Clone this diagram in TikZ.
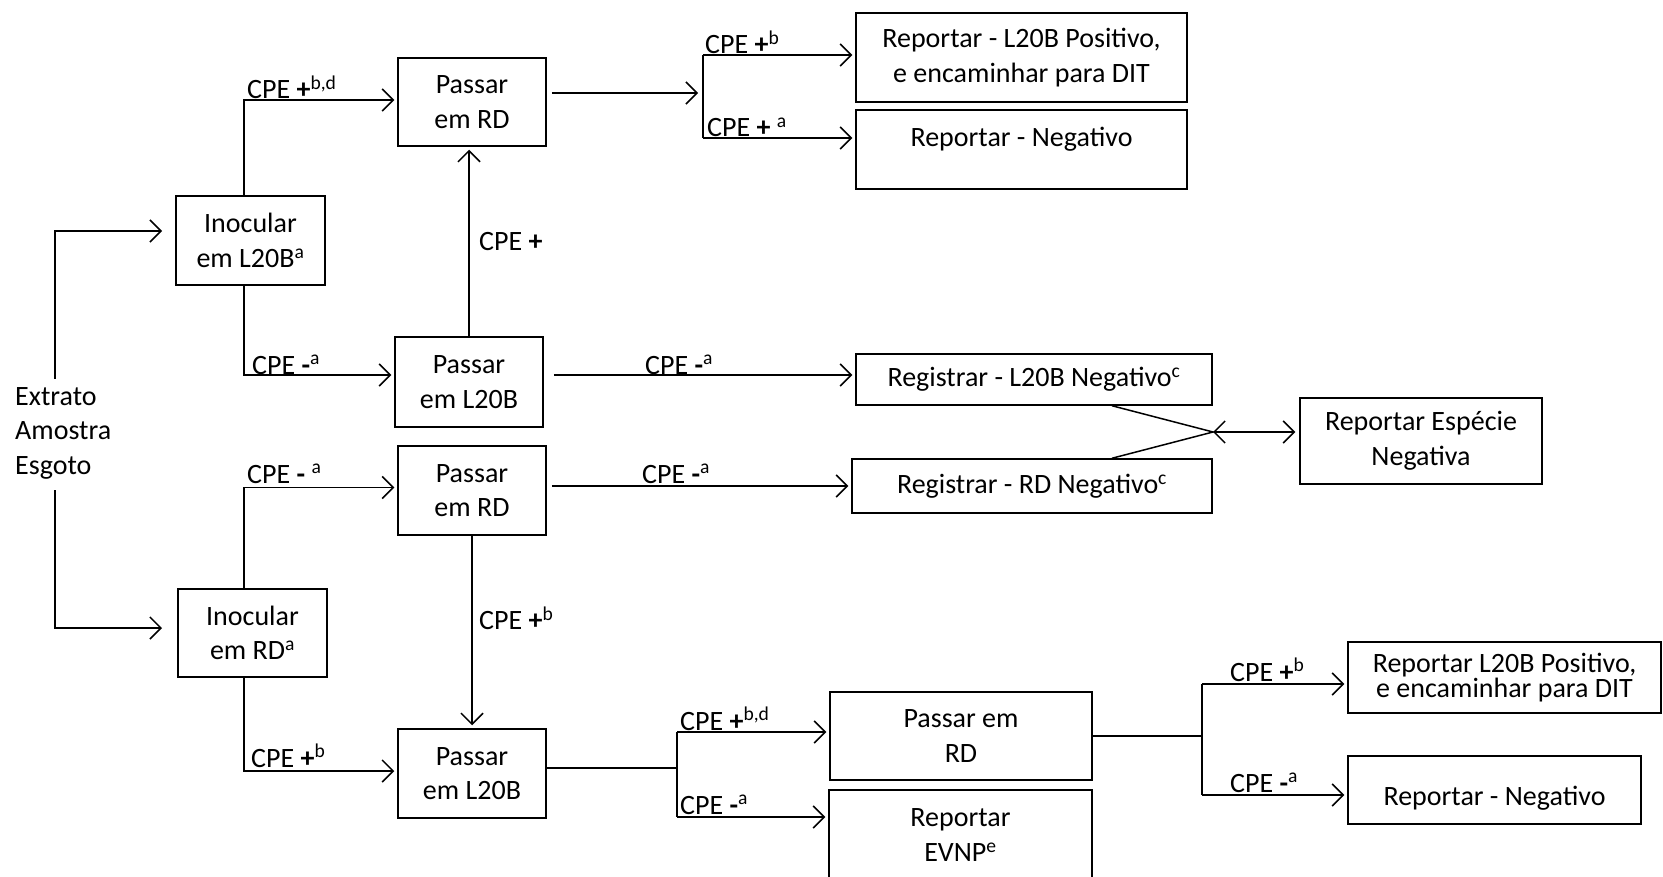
\documentclass[tikz,border=0pt]{standalone}
\usepackage{fontspec}
\setmainfont{Carlito}
\usetikzlibrary{arrows.meta,calc}
\begin{document}
\begin{tikzpicture}[x=1pt,y=-1pt,
  font=\fontsize{28}{34.5}\selectfont,
  box/.style={draw,line width=1.5pt,align=center,inner sep=0pt},
  sbox/.style={draw,line width=1.5pt,inner sep=0pt},
  lab/.style={anchor=base west,inner sep=0pt},
  ln/.style={line width=1.5pt},
  arr/.style={ln,-{Straight Barb[length=11pt,width=22pt]},shorten >=3pt},
  darr/.style={ln,{Straight Barb[length=11pt,width=22pt]}-{Straight Barb[length=11pt,width=22pt]},shorten >=4pt},
]
\useasboundingbox (0,0) rectangle (1663,877);

% boxes
\node[box,minimum width=148,minimum height=88] (pRD1) at (472,102) {Passar\\em RD};
\node[box,minimum width=149,minimum height=89] (iL20B) at (250.5,240.5) {Inocular\\em L20B\textsuperscript{a}};
\node[box,minimum width=148,minimum height=90] (pL20B1) at (469,382) {Passar\\em L20B};
\node[box,minimum width=331,minimum height=89] (rPos1) at (1021.5,57.5) {Reportar - L20B Positivo,\\e encaminhar para DIT};
\node[sbox,minimum width=331,minimum height=79,text height=20pt,text depth=26pt] (rNeg1) at (1021.5,149.5) {Reportar - Negativo};
\node[box,minimum width=356,minimum height=51] (regL20B) at (1034,379.5) {Registrar - L20B Negativo\textsuperscript{c}};
\node[box,minimum width=360,minimum height=54] (regRD) at (1032,486) {Registrar - RD Negativo\textsuperscript{c}};
\node[box,minimum width=242,minimum height=86] (repEsp) at (1421,441) {Reportar Espécie\\Negativa};
\node[box,minimum width=148,minimum height=89] (pRD2) at (472,490.5) {Passar\\em RD};
\node[box,minimum width=149,minimum height=88] (iRD) at (252.5,633) {Inocular\\em RD\textsuperscript{a}};
\node[box,minimum width=148,minimum height=89] (pL20B2) at (472,773.5) {Passar\\em L20B};
\node[box,minimum width=262,minimum height=88] (pRD3) at (961,736) {Passar em\\RD};
\node[box,minimum width=263,minimum height=90] (evnp) at (960.5,835) {Reportar\\EVNP\textsuperscript{e}};
\node[box,minimum width=313,minimum height=71,font=\fontsize{28}{22}\selectfont] (rPos2) at (1504.5,677.5) {Reportar L20B Positivo,\\e encaminhar para DIT};
\node[sbox,minimum width=293,minimum height=68,text height=36pt,text depth=6pt] (rNeg2) at (1494.5,790) {Reportar - Negativo};
\node[anchor=west,align=left,inner sep=0pt] (ext) at (15,433) {Extrato\\Amostra\\Esgoto};

% helper coordinates
\coordinate (vx) at (55,0);
\coordinate (t1) at (165,231);
\coordinate (t2) at (165,628);
\coordinate (cx) at (244,0);
\coordinate (br1t) at (703,55);
\coordinate (br1b) at (703,138);
\coordinate (br1in) at (701,93);
\coordinate (br2t) at (677,732);
\coordinate (br2b) at (677,817);
\coordinate (br3t) at (1202,684);
\coordinate (br3b) at (1202,795);
\coordinate (jx) at (1112,0);
\coordinate (j) at (1213,432);

% start
\draw[arr,shorten <=8pt] (ext.north -| vx) |- (t1);
\draw[arr,shorten <=11pt] (ext.south -| vx) |- (t2);

% upper branch
\draw[arr] (iL20B.north -| cx) |- ([yshift=2pt]pRD1.west);
\draw[arr] (iL20B.south -| cx) |- ([yshift=7pt]pL20B1.west);
\draw[arr] (pL20B1.north) -- (pL20B1.north |- pRD1.south);
\draw[arr,shorten <=5pt] ([yshift=9pt]pRD1.east) -- (br1in);
\draw[ln] (br1t) -- (br1b);
\draw[arr] (br1t) -- (br1t -| rPos1.west);
\draw[arr] (br1b) -- (br1b -| rNeg1.west);
\draw[arr,shorten <=10pt] ([yshift=7pt]pL20B1.east) -- ([yshift=7pt]pL20B1.east -| regL20B.west);

% lower branch
\draw[arr] (iRD.north -| cx) |- ([yshift=3pt]pRD2.west);
\draw[arr] (iRD.south -| cx) |- ([yshift=2.5pt]pL20B2.west);
\draw[arr,shorten <=5pt] (pRD2.east |- regRD.west) -- (regRD.west);
\draw[arr] (pRD2.south) -- (pL20B2.north);
\draw[ln] ([yshift=5.5pt]pL20B2.east) -- ([yshift=5.5pt]pL20B2.east -| br2t);
\draw[ln] (br2t) -- (br2b);
\draw[arr] (br2t) -- (br2t -| pRD3.west);
\draw[arr] (br2b) -- (br2b -| evnp.west);
\draw[ln] (pRD3.east) -- (pRD3.east -| br3t);
\draw[ln] (br3t) -- (br3b);
\draw[arr] (br3t) -- (br3t -| rPos2.west);
\draw[arr] (br3b) -- (br3b -| rNeg2.west);

% join
\draw[ln] (regL20B.south -| jx) -- (j) -- (regRD.north -| jx);
\draw[darr] (j) -- (j -| repEsp.west);

% labels
\node[lab] (l1) at (247,99) {CPE \textbf{+}\textsuperscript{b,d}};
\node[lab] (l2) at (252,374) {CPE \textbf{-}\textsuperscript{a}};
\node[anchor=west,inner sep=0pt] (l3) at (479,242) {CPE \textbf{+}};
\node[lab] (l4) at (705,54) {CPE \textbf{+}\textsuperscript{b}};
\node[lab] (l5) at (707,137) {CPE \textbf{+} \textsuperscript{a}};
\node[lab] (l6) at (645,374) {CPE \textbf{-}\textsuperscript{a}};
\node[lab] (l7) at (247,483) {CPE \textbf{-} \textsuperscript{a}};
\node[lab] (l8) at (642,483) {CPE \textbf{-}\textsuperscript{a}};
\node[lab] (l9) at (251,767) {CPE \textbf{+}\textsuperscript{b}};
\node[anchor=west,inner sep=0pt] (l10) at (479,618) {CPE \textbf{+}\textsuperscript{b}};
\node[lab] (l11) at (680,730) {CPE \textbf{+}\textsuperscript{b,d}};
\node[lab] (l12) at (680,814) {CPE \textbf{-}\textsuperscript{a}};
\node[lab] (l13) at (1230,681) {CPE \textbf{+}\textsuperscript{b}};
\node[lab] (l14) at (1230,792) {CPE \textbf{-}\textsuperscript{a}};
\end{tikzpicture}
\end{document}
